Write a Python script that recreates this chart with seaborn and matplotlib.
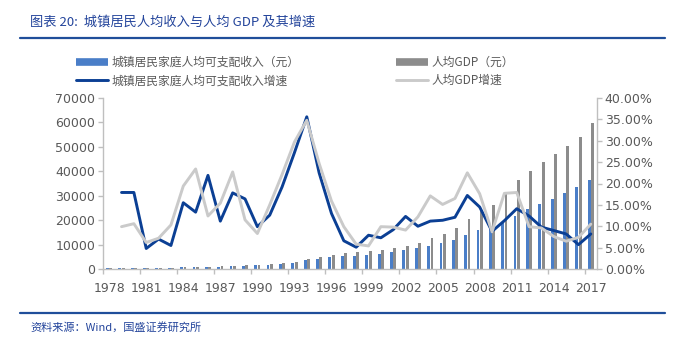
import numpy as np
import pandas as pd
import matplotlib
matplotlib.use("Agg")
import matplotlib.pyplot as plt
import seaborn as sns
from matplotlib.lines import Line2D
from matplotlib.font_manager import FontProperties

# ---------------- data ----------------
years = [str(y) for y in range(1978, 2018)]
income = [343.4, 405.0, 477.6, 500.4, 535.3, 564.6, 652.1, 739.1, 900.9, 1002.1,
          1180.2, 1373.9, 1510.2, 1700.6, 2026.6, 2577.4, 3496.2, 4283.0, 4838.9, 5160.3,
          5425.1, 5854.0, 6280.0, 6859.6, 7702.8, 8472.2, 9421.6, 10493.0, 11759.5, 13785.8,
          15780.8, 17174.7, 19109.4, 21809.8, 24564.7, 26467.0, 28844.0, 31195.0, 33616.0, 36396.0]
gdp = [385, 423, 468, 497, 533, 588, 702, 866, 973, 1123,
       1378, 1536, 1663, 1912, 2334, 3027, 4081, 5091, 5898, 6481,
       6860, 7229, 7942, 8717, 9506, 10666, 12487, 14368, 16738, 20505,
       24121, 26222, 30876, 36403, 40007, 43852, 47203, 50251, 53980, 59660]
growth_years = years[1:]
income_growth = [17.9, 17.9, 4.8, 7.0, 5.5, 15.5, 13.3, 21.9, 11.2, 17.8,
                 16.4, 9.9, 12.6, 19.2, 27.2, 35.6, 22.5, 13.0, 6.6, 5.1,
                 7.9, 7.3, 9.2, 12.3, 10.0, 11.2, 11.4, 12.1, 17.2, 14.5,
                 8.8, 11.3, 14.1, 12.4, 9.8, 9.0, 8.2, 5.7, 8.2]
gdp_growth = [9.9, 10.6, 6.2, 7.2, 10.3, 19.4, 23.4, 12.4, 15.4, 22.7,
              11.5, 8.3, 15.0, 22.1, 29.7, 34.8, 24.7, 15.9, 9.9, 5.8,
              5.4, 9.9, 9.8, 9.1, 12.2, 17.1, 15.1, 16.5, 22.5, 17.6,
              8.7, 17.7, 17.9, 9.9, 9.6, 7.6, 6.5, 7.4, 10.5]

label_income = "城镇居民家庭人均可支配收入（元）"
label_gdp = "人均GDP（元）"
label_income_g = "城镇居民家庭人均可支配收入增速"
label_gdp_g = "人均GDP增速"
title = "图表 20:  城镇居民人均收入与人均 GDP 及其增速"
source = "资料来源：Wind，国盛证券研究所"

# ---------------- style ----------------
c_inc_bar = "#4A7EC8"
c_gdp_bar = "#8C8C8C"
c_inc_line = "#0B3F94"
c_gdp_line = "#CACACA"
c_axis = "#BFBFBF"
c_text = "#595959"
c_title = "#23449B"

sns.set_style("white")
plt.rcParams["font.family"] = ["DejaVu Sans", "Noto Sans CJK SC"]
cjk = ["Noto Sans CJK SC", "DejaVu Sans"]

W, H = 674, 342
fig = plt.figure(figsize=(W / 100, H / 100), dpi=100)
ax = fig.add_axes([103 / W, 1 - 269 / H, (597 - 103) / W, (269 - 98) / H])

df = pd.DataFrame({
    "year": years * 2,
    "value": income + gdp,
    "series": [label_income] * len(years) + [label_gdp] * len(years),
})
sns.barplot(data=df, x="year", y="value", hue="series", order=years,
            hue_order=[label_income, label_gdp],
            palette=[c_inc_bar, c_gdp_bar], saturation=1, width=0.54, gap=0.14,
            errorbar=None, legend=False, linewidth=0, ax=ax)

ax2 = ax.twinx()
pos = [years.index(y) for y in growth_years]
sns.lineplot(x=pos, y=income_growth, ax=ax2, color=c_inc_line, linewidth=2.1)
sns.lineplot(x=pos, y=gdp_growth, ax=ax2, color=c_gdp_line, linewidth=2.1)

ax.set_xlim(-0.5, len(years) - 0.5)
ax.set_ylim(0, 70000)
ax2.set_ylim(0, 40)
ax.set_xlabel("")
ax.set_ylabel("")
ax2.set_xlabel("")
ax2.set_ylabel("")

ax.set_yticks(range(0, 70001, 10000))
ax.set_yticklabels([str(v) for v in range(0, 70001, 10000)])
ax2.set_yticks(np.arange(0, 40.01, 5))
ax2.set_yticklabels([f"{v:.2f}%" for v in np.arange(0, 40.01, 5)])

ax.set_xticks(range(0, len(years), 3))
ax.set_xticklabels(years[::3])
ax.set_xticks(np.arange(-0.5, len(years) - 1, 3), minor=True)

for a in (ax, ax2):
    for s in a.spines.values():
        s.set_visible(False)
        s.set_color(c_axis)
        s.set_linewidth(1.0)
ax.spines["left"].set_visible(True)
ax.spines["bottom"].set_visible(True)
ax2.spines["right"].set_visible(True)

ax.tick_params(axis="y", left=True, direction="out", length=3.5, width=1,
               color=c_axis, labelcolor=c_text, labelsize=9, pad=2)
ax2.tick_params(axis="y", right=True, direction="out", length=3.5, width=1,
                color=c_axis, labelcolor=c_text, labelsize=9, pad=2)
ax.tick_params(axis="x", which="major", bottom=True, length=0,
               labelcolor=c_text, labelsize=9, pad=9)
ax.tick_params(axis="x", which="minor", bottom=True, direction="out", length=3.5,
               width=1, color=c_axis)
ax.grid(False)
ax2.grid(False)

# legend
handles = [
    Line2D([], [], color=c_inc_bar, linewidth=5.5, solid_capstyle="butt"),
    Line2D([], [], color=c_inc_line, linewidth=2.1),
    Line2D([], [], color=c_gdp_bar, linewidth=5.5, solid_capstyle="butt"),
    Line2D([], [], color=c_gdp_line, linewidth=2.1),
]
labels = [label_income, label_income_g, label_gdp, label_gdp_g]
fig.legend(handles, labels, ncol=2, loc="upper left",
           bbox_to_anchor=(70 / W, 1 - 50 / H), frameon=False,
           prop=FontProperties(family=cjk, size=8.5), labelcolor=c_text,
           handlelength=2.7, handletextpad=0.3, columnspacing=8.2,
           labelspacing=0.45, borderpad=0)

# title, rules, footer
fig.text(30 / W, 1 - 22 / H, title, ha="left", va="center", color=c_title,
         fontsize=9.5, family=cjk, style="italic")
fig.add_artist(Line2D([20 / W, 665 / W], [1 - 38 / H, 1 - 38 / H],
                      transform=fig.transFigure, color="#1F4E9A", linewidth=1.6))
fig.add_artist(Line2D([20 / W, 665 / W], [1 - 313 / H, 1 - 313 / H],
                      transform=fig.transFigure, color="#1F4E9A", linewidth=1.6))
fig.text(30 / W, 1 - 327 / H, source, ha="left", va="center", color=c_title,
         fontsize=8, family=cjk, style="italic")

fig.savefig("out.png", dpi=100)
